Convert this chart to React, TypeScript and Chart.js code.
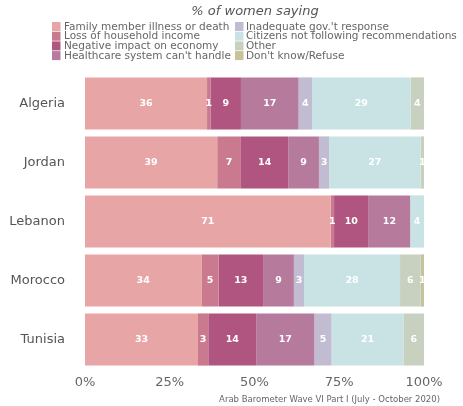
import React, { useEffect, useRef } from "react";
import { Chart, registerables } from "chart.js";

Chart.register(...registerables);

const countries = ["Algeria", "Jordan", "Lebanon", "Morocco", "Tunisia"];
const seriesNames = [
  "Family member illness or death",
  "Loss of household income",
  "Negative impact on economy",
  "Healthcare system can't handle",
  "Inadequate gov.'t response",
  "Citizens not following recommendations",
  "Other",
  "Don't know/Refuse",
];
const seriesColors = [
  "#e8a5a5",
  "#c97a8f",
  "#b0557f",
  "#b57a9c",
  "#c1bcd1",
  "#c9e3e5",
  "#c8d1c0",
  "#c6c39b",
];
const familyIllness = [36, 39, 71, 34, 33];
const lossIncome = [1, 7, 1, 5, 3];
const negativeEconomy = [9, 14, 10, 13, 14];
const healthcare = [17, 9, 12, 9, 17];
const inadequateGov = [4, 3, 0, 3, 5];
const citizensNotFollowing = [29, 27, 4, 28, 21];
const other = [4, 1, 0, 6, 6];
const dontKnow = [0, 0, 0, 1, 0];
const xTicks = [0, 25, 50, 75, 100];

const titleText = "% of women saying";
const captionText = "Arab Barometer Wave VI Part I (July - October 2020)";
const FONT = "'DejaVu Sans', sans-serif";

export default function App() {
  const ref = useRef<HTMLCanvasElement>(null);
  useEffect(() => {
    document.body.style.margin = "0";
    const raw = [
      familyIllness,
      lossIncome,
      negativeEconomy,
      healthcare,
      inadequateGov,
      citizensNotFollowing,
      other,
      dontKnow,
    ];
    const totals = countries.map((_, i) => raw.reduce((s, arr) => s + arr[i], 0));
    const datasets = raw.map((arr, k) => ({
      label: seriesNames[k],
      data: arr.map((v, i) => (v / totals[i]) * 100),
      rawValues: arr,
      backgroundColor: seriesColors[k],
      borderWidth: 0,
      categoryPercentage: 1,
      barPercentage: 0.885,
    }));

    const decor = {
      id: "decor",
      afterDatasetsDraw(chart: any) {
        const ctx = chart.ctx;
        ctx.save();
        ctx.fillStyle = "#ffffff";
        ctx.font = `bold 9.5px ${FONT}`;
        ctx.textAlign = "center";
        ctx.textBaseline = "middle";
        chart.data.datasets.forEach((ds: any, k: number) => {
          const meta = chart.getDatasetMeta(k);
          meta.data.forEach((el: any, i: number) => {
            const v = ds.rawValues[i];
            if (!v) return;
            const cx = (el.x + el.base) / 2;
            ctx.fillText(String(v), cx, el.y + 0.5);
          });
        });
        ctx.restore();
      },
      afterDraw(chart: any) {
        const ctx = chart.ctx;
        ctx.save();
        // title
        ctx.fillStyle = "#555555";
        ctx.font = `italic 13px ${FONT}`;
        ctx.textAlign = "center";
        ctx.textBaseline = "middle";
        ctx.fillText(titleText, 255, 12);
        // legend
        ctx.font = `10.5px ${FONT}`;
        ctx.textAlign = "left";
        const cols = [
          { sq: 52, tx: 64 },
          { sq: 235, tx: 246 },
        ];
        seriesNames.forEach((name, k) => {
          const col = cols[Math.floor(k / 4)];
          const row = k % 4;
          const cy = 26.5 + row * 9.7;
          ctx.fillStyle = seriesColors[k];
          ctx.fillRect(col.sq, cy - 4.5, 8.5, 9);
          ctx.fillStyle = "#666666";
          ctx.fillText(name, col.tx, cy + 0.5);
        });
        // caption
        ctx.font = `8.5px ${FONT}`;
        ctx.textAlign = "right";
        ctx.fillStyle = "#666666";
        ctx.fillText(captionText, 440, 400);
        ctx.restore();
      },
    };

    const chart = new Chart(ref.current!, {
      type: "bar",
      data: { labels: countries, datasets: datasets as any },
      options: {
        indexAxis: "y",
        responsive: false,
        animation: false,
        layout: { padding: { top: 74, right: 39, bottom: 16, left: 0 } },
        plugins: {
          legend: { display: false },
          tooltip: { enabled: false },
          title: { display: false },
        },
        scales: {
          x: {
            stacked: true,
            min: 0,
            max: 100,
            afterBuildTicks: (s: any) => {
              s.ticks = xTicks.map((v) => ({ value: v }));
            },
            afterFit: (s: any) => {
              s.height = 21;
            },
            grid: { display: false, drawTicks: false },
            border: { display: false },
            ticks: {
              padding: 6,
              color: "#666666",
              font: { family: FONT, size: 13 },
              callback: (v: any) => `${v}%`,
            },
          },
          y: {
            stacked: true,
            afterFit: (s: any) => {
              s.width = 85;
            },
            grid: { display: false, drawTicks: false },
            border: { display: false },
            ticks: {
              padding: 20,
              color: "#555555",
              font: { family: FONT, size: 13 },
            },
          },
        },
      },
      plugins: [decor],
    });
    return () => chart.destroy();
  }, []);
  return <canvas ref={ref} width={463} height={406} />;
}
